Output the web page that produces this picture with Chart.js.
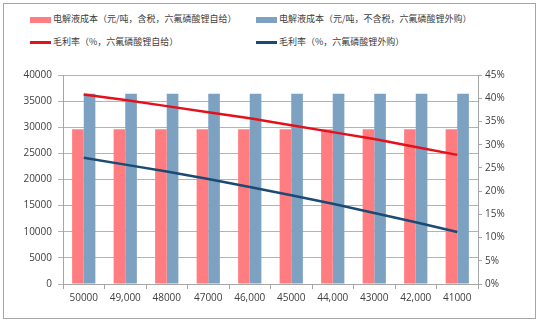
<!DOCTYPE html>
<html>
<head>
<meta charset="utf-8">
<script src="https://cdn.jsdelivr.net/npm/chart.js@4/dist/chart.umd.min.js"></script>
<style>
body { margin: 0; background: #fff; }
#wrap { position: relative; width: 542px; height: 324px; }
#frame { position: absolute; left: 3px; top: 3px; width: 533px; height: 316px; border: 1px solid #a6a6a6; box-sizing: border-box; }
#legend { position: absolute; left: 0; top: 0; width: 542px; height: 60px; font-family: "Noto Sans CJK SC", sans-serif; font-size: 9px; color: #404040; }
.item { position: absolute; height: 12px; line-height: 12px; white-space: nowrap; }
.sw { display: inline-block; width: 21px; vertical-align: middle; margin-right: 2px; }
canvas { position: absolute; left: 0; top: 0; }
</style>
</head>
<body>
<div id="wrap">
  <div id="frame"></div>
  <div id="legend"></div>
  <canvas id="myChart" width="542" height="324"></canvas>
</div>
<script>
var priceLabels = ["50000", "49,000", "48000", "47000", "46,000", "45000", "44,000", "43000", "42,000", "41000"];
var costSelf = [29600, 29600, 29600, 29600, 29600, 29600, 29600, 29600, 29600, 29600];
var costBuy = [36400, 36400, 36400, 36400, 36400, 36400, 36400, 36400, 36400, 36400];
var marginSelf = [40.8, 39.6, 38.3, 37.0, 35.7, 34.2, 32.7, 31.2, 29.5, 27.8];
var marginBuy = [27.2, 25.7, 24.2, 22.6, 20.9, 19.1, 17.3, 15.3, 13.3, 11.2];

var names = [
  "电解液成本（元/吨，含税，六氟磷酸锂自给）",
  "电解液成本（元/吨，不含税，六氟磷酸锂外购）",
  "毛利率（%，六氟磷酸锂自给）",
  "毛利率（%，六氟磷酸锂外购）"
];
var colors = ["#ff7c80", "#7da1c1", "#e3111b", "#1b4a73"];

// legend in two columns, like the original
var legendPos = [[30, 13], [256, 13], [30, 36], [256, 36]];
var legend = document.getElementById("legend");
for (var i = 0; i < names.length; i++) {
  var item = document.createElement("div");
  item.className = "item";
  item.style.left = legendPos[i][0] + "px";
  item.style.top = legendPos[i][1] + "px";
  var sw = document.createElement("span");
  sw.className = "sw";
  sw.style.background = colors[i];
  sw.style.height = i < 2 ? "6px" : "2.5px";
  item.appendChild(sw);
  item.appendChild(document.createTextNode(names[i]));
  legend.appendChild(item);
}

var tickFont = { family: "Open Sans", size: 10 };

new Chart("myChart", {
  type: "bar",
  data: {
    labels: priceLabels,
    datasets: [
      { type: "line", label: names[2], data: marginSelf, yAxisID: "y1", borderColor: colors[2], borderWidth: 2.5, pointRadius: 0, fill: false, order: 0 },
      { type: "line", label: names[3], data: marginBuy, yAxisID: "y1", borderColor: colors[3], borderWidth: 2.5, pointRadius: 0, fill: false, order: 0 },
      { label: names[0], data: costSelf, yAxisID: "y", backgroundColor: colors[0], categoryPercentage: 0.56, barPercentage: 1, order: 1 },
      { label: names[1], data: costBuy, yAxisID: "y", backgroundColor: colors[1], categoryPercentage: 0.56, barPercentage: 1, order: 1 }
    ]
  },
  options: {
    responsive: false,
    animation: false,
    layout: { padding: { top: 75, left: 0, right: 4, bottom: 8 } },
    plugins: { legend: { display: false }, tooltip: { enabled: false } },
    scales: {
      x: {
        grid: { drawOnChartArea: false, drawTicks: true, tickLength: 5, color: "#a6a6a6" },
        border: { color: "#a6a6a6" },
        ticks: { color: "#404040", font: tickFont, padding: 3, maxRotation: 0, autoSkip: false },
        afterFit: function (s) { s.height = 32; }
      },
      y: {
        position: "left",
        min: 0, max: 40000,
        grid: { color: "#b3b3b3", tickLength: 5 },
        border: { color: "#a6a6a6" },
        ticks: { stepSize: 5000, color: "#404040", font: tickFont, padding: 6,
          callback: function (v) { return String(v); } },
        afterFit: function (s) { s.width = 63; }
      },
      y1: {
        position: "right",
        min: 0, max: 45,
        grid: { drawOnChartArea: false, tickLength: 4, color: "#a6a6a6" },
        border: { color: "#a6a6a6" },
        ticks: { stepSize: 5, color: "#404040", font: tickFont, padding: 3,
          callback: function (v) { return v + "%"; } },
        afterFit: function (s) { s.width = 60; }
      }
    }
  }
});
</script>
</body>
</html>
